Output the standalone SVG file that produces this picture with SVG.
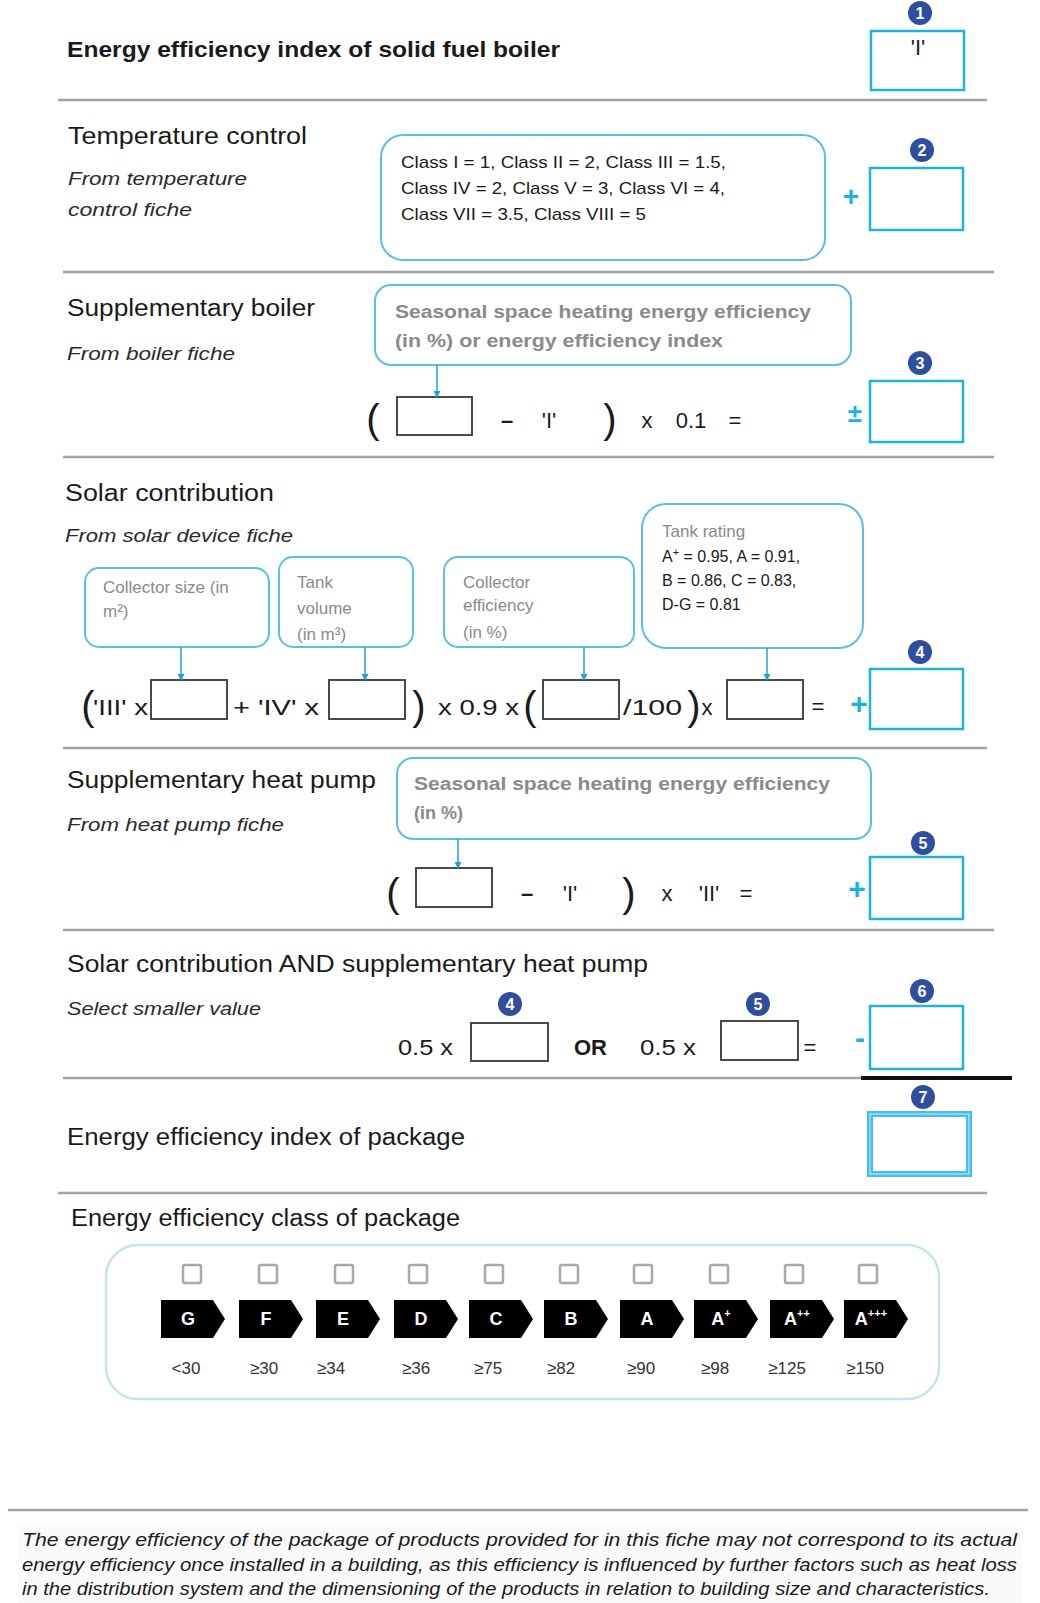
<svg xmlns="http://www.w3.org/2000/svg" width="1040" height="1603" viewBox="0 0 1040 1603">
<style>
text{font-family:"Liberation Sans",Arial,sans-serif;fill:#1a1a1a}
.h{font-size:23px}
.sub{font-size:19px;font-style:italic;fill:#2a2a2a}
.f{font-size:22px}
.br{font-size:40px;font-weight:300}
.cyan{fill:#1ab0e8;font-weight:bold}
.sep{stroke:#a3a3a3;stroke-width:2.5}
.res{fill:#fff;stroke:#1fb3d9;stroke-width:2.5}
.inp{fill:#fff;stroke:#4a4a4a;stroke-width:2}
.info{fill:#fff;stroke:#58bfe9;stroke-width:2}
.it{font-size:18px;font-weight:bold;fill:#8a8a8a}
.st{font-size:17px;fill:#8a8a8a}
.badge{fill:#2f4f9e}
.bn{font-size:16px;font-weight:bold;fill:#fff;text-anchor:middle}
.con{stroke:#1fa3d4;stroke-width:1.5;fill:none}
.chk{fill:#fff;stroke:#a8a8a8;stroke-width:2.5}
.cls{fill:#000}
.cl{font-size:18px;font-weight:bold;fill:#fff;text-anchor:middle}
.num{font-size:17px;fill:#333;text-anchor:middle}
.m{text-anchor:middle}
</style>
<defs>
<marker id="ar" markerWidth="7" markerHeight="7" refX="5" refY="3.5" orient="auto" markerUnits="userSpaceOnUse">
<path d="M0,0 L7,3.5 L0,7 z" fill="#1fa3d4"/>
</marker>
</defs>
<rect width="1040" height="1603" fill="#fff"/>

<!-- separators -->
<g id="separators">
<line class="sep" x1="58" y1="100" x2="987" y2="100"/>
<line class="sep" x1="63" y1="272" x2="994" y2="272"/>
<line class="sep" x1="63" y1="457" x2="994" y2="457"/>
<line class="sep" x1="63" y1="748" x2="987" y2="748"/>
<line class="sep" x1="63" y1="930" x2="994" y2="930"/>
<line class="sep" x1="63" y1="1078" x2="862" y2="1078"/>
<line x1="861" y1="1078" x2="1012" y2="1078" stroke="#111" stroke-width="4"/>
<line class="sep" x1="58" y1="1193" x2="987" y2="1193"/>
<line class="sep" x1="8" y1="1510" x2="1028" y2="1510"/>
</g>

<!-- Section 1 -->
<g id="solid-fuel-boiler">
<text x="67" y="57" font-size="22" font-weight="bold" textLength="493" lengthAdjust="spacingAndGlyphs">Energy efficiency index of solid fuel boiler</text>
<rect class="res" x="871" y="31" width="93" height="59"/>
<text class="f m" x="918" y="55" font-size="20">'I'</text>
<circle class="badge" cx="920" cy="13" r="12"/><text class="bn" x="920" y="19">1</text>
</g>

<!-- Section 2 -->
<g id="temperature-control">
<text class="h" x="68" y="144" textLength="239" lengthAdjust="spacingAndGlyphs">Temperature control</text>
<text class="sub" x="68" y="185" textLength="179" lengthAdjust="spacingAndGlyphs">From temperature</text>
<text class="sub" x="68" y="216" textLength="124" lengthAdjust="spacingAndGlyphs">control fiche</text>
<rect class="info" x="381" y="135" width="444" height="125" rx="22"/>
<text x="401" y="168" font-size="17" textLength="325" lengthAdjust="spacingAndGlyphs">Class I = 1, Class II = 2, Class III = 1.5,</text>
<text x="401" y="194" font-size="17" textLength="324" lengthAdjust="spacingAndGlyphs">Class IV = 2, Class V = 3, Class VI = 4,</text>
<text x="401" y="220" font-size="17" textLength="245" lengthAdjust="spacingAndGlyphs">Class VII = 3.5, Class VIII = 5</text>
<text class="cyan m" x="851" y="206" font-size="28">+</text>
<rect class="res" x="870" y="168" width="93" height="62"/>
<circle class="badge" cx="922" cy="150" r="12"/><text class="bn" x="922" y="156">2</text>
</g>

<!-- Section 3 -->
<g id="supplementary-boiler">
<text class="h" x="67" y="316" textLength="248" lengthAdjust="spacingAndGlyphs">Supplementary boiler</text>
<text class="sub" x="67" y="360" textLength="168" lengthAdjust="spacingAndGlyphs">From boiler fiche</text>
<rect class="info" x="375" y="285" width="476" height="80" rx="16"/>
<text class="it" x="395" y="318" textLength="416" lengthAdjust="spacingAndGlyphs">Seasonal space heating energy efficiency</text>
<text class="it" x="395" y="347" textLength="328" lengthAdjust="spacingAndGlyphs">(in %) or energy efficiency index</text>
<text class="br m" x="373" y="433">(</text>
<rect class="inp" x="397" y="397" width="75" height="38"/>
<text class="f m" x="507" y="428" font-weight="bold">–</text>
<text class="f m" x="549" y="428">'I'</text>
<text class="br m" x="610" y="433">)</text>
<text class="f m" x="647" y="428">x</text>
<text class="f m" x="691" y="428">0.1</text>
<text class="f m" x="735" y="428" font-size="18">=</text>
<text class="cyan m" x="855" y="422" font-size="26">±</text>
<rect class="res" x="870" y="381" width="93" height="61"/>
<circle class="badge" cx="920" cy="363" r="12"/><text class="bn" x="920" y="369">3</text>
</g>

<!-- Section 4 -->
<g id="solar-contribution">
<text class="h" x="65" y="501" textLength="209" lengthAdjust="spacingAndGlyphs">Solar contribution</text>
<text class="sub" x="65" y="542" textLength="228" lengthAdjust="spacingAndGlyphs">From solar device fiche</text>
<rect class="info" x="85" y="568" width="184" height="79" rx="14"/>
<text class="st" x="103" y="593" font-size="16">Collector size (in</text>
<text class="st" x="103" y="617" font-size="16">m²)</text>
<rect class="info" x="279" y="557" width="134" height="90" rx="14"/>
<text class="st" x="297" y="588" font-size="18">Tank</text>
<text class="st" x="297" y="614" font-size="18">volume</text>
<text class="st" x="297" y="640" font-size="18">(in m³)</text>
<rect class="info" x="444" y="557" width="190" height="90" rx="14"/>
<text class="st" x="463" y="588" font-size="18">Collector</text>
<text class="st" x="463" y="611" font-size="16">efficiency</text>
<text class="st" x="463" y="638" font-size="18">(in %)</text>
<rect class="info" x="642" y="504" width="221" height="144" rx="24"/>
<text class="st" x="662" y="537" font-size="18">Tank rating</text>
<text x="662" y="562" font-size="16" fill="#555">A<tspan font-size="11" dy="-6">+</tspan><tspan dy="6"> = 0.95, A = 0.91,</tspan></text>
<text x="662" y="586" font-size="16" fill="#555">B = 0.86, C = 0.83,</text>
<text x="662" y="610" font-size="16" fill="#555">D-G = 0.81</text>
<text class="br m" x="88" y="720">(</text>
<text class="f" x="93" y="715" font-size="25" textLength="55" lengthAdjust="spacingAndGlyphs">'III' x</text>
<rect class="inp" x="151" y="680" width="76" height="39"/>
<text class="f" x="233" y="715" font-size="25" textLength="86" lengthAdjust="spacingAndGlyphs">+ 'IV' x</text>
<rect class="inp" x="329" y="680" width="76" height="39"/>
<text class="br m" x="419" y="720">)</text>
<text class="f" x="438" y="715" font-size="25" textLength="81" lengthAdjust="spacingAndGlyphs">x 0.9 x</text>
<text class="br m" x="530" y="720">(</text>
<rect class="inp" x="543" y="680" width="76" height="39"/>
<text class="f" x="623" y="715" font-size="25" textLength="59" lengthAdjust="spacingAndGlyphs">/100</text>
<text class="br m" x="694" y="720">)</text>
<text class="f m" x="707" y="715" font-size="24">x</text>
<rect class="inp" x="727" y="680" width="76" height="39"/>
<text class="f m" x="818" y="714" font-size="18">=</text>
<text class="cyan m" x="859" y="714" font-size="30">+</text>
<rect class="res" x="870" y="669" width="93" height="60"/>
<circle class="badge" cx="920" cy="652" r="12"/><text class="bn" x="920" y="658">4</text>
</g>

<!-- Section 5 -->
<g id="supplementary-heat-pump">
<text class="h" x="67" y="788" textLength="309" lengthAdjust="spacingAndGlyphs">Supplementary heat pump</text>
<text class="sub" x="67" y="831" textLength="217" lengthAdjust="spacingAndGlyphs">From heat pump fiche</text>
<rect class="info" x="397" y="758" width="474" height="81" rx="16"/>
<text class="it" x="414" y="790" textLength="416" lengthAdjust="spacingAndGlyphs">Seasonal space heating energy efficiency</text>
<text class="it" x="414" y="819">(in %)</text>
<text class="br m" x="393" y="907">(</text>
<rect class="inp" x="416" y="868" width="76" height="39"/>
<text class="f m" x="527" y="901" font-weight="bold">–</text>
<text class="f m" x="570" y="901">'I'</text>
<text class="br m" x="629" y="907">)</text>
<text class="f m" x="667" y="901">x</text>
<text class="f m" x="709" y="901">'II'</text>
<text class="f m" x="746" y="901" font-size="18">=</text>
<text class="cyan m" x="857" y="899" font-size="30">+</text>
<rect class="res" x="870" y="857" width="93" height="62"/>
<circle class="badge" cx="923" cy="843" r="12"/><text class="bn" x="923" y="849">5</text>
</g>

<!-- Section 6 -->
<g id="solar-and-heat-pump">
<text class="h" x="67" y="972" textLength="581" lengthAdjust="spacingAndGlyphs">Solar contribution AND supplementary heat pump</text>
<text class="sub" x="67" y="1015" textLength="194" lengthAdjust="spacingAndGlyphs">Select smaller value</text>
<circle class="badge" cx="510" cy="1004" r="12"/><text class="bn" x="510" y="1010">4</text>
<circle class="badge" cx="758" cy="1004" r="12"/><text class="bn" x="758" y="1010">5</text>
<text class="f" x="398" y="1055" font-size="24" textLength="55" lengthAdjust="spacingAndGlyphs">0.5 x</text>
<rect class="inp" x="471" y="1023" width="77" height="38"/>
<text x="574" y="1055" font-size="22" font-weight="bold">OR</text>
<text class="f" x="640" y="1055" font-size="24" textLength="56" lengthAdjust="spacingAndGlyphs">0.5 x</text>
<rect class="inp" x="721" y="1021" width="77" height="39"/>
<text class="f m" x="810" y="1055" font-size="18">=</text>
<text class="cyan m" x="860" y="1048" font-size="30">-</text>
<rect class="res" x="870" y="1006" width="93" height="63"/>
<circle class="badge" cx="922" cy="991" r="12"/><text class="bn" x="922" y="997">6</text>
</g>

<!-- Section 7 -->
<g id="package-index">
<text class="h" x="67" y="1145" textLength="398" lengthAdjust="spacingAndGlyphs">Energy efficiency index of package</text>
<rect x="870" y="1114" width="99" height="60" fill="#fff" stroke="#45bdf0" stroke-width="6"/>
<rect x="870" y="1114" width="99" height="60" fill="none" stroke="#b5e6fa" stroke-width="1.2"/>
<circle class="badge" cx="923" cy="1097" r="12"/><text class="bn" x="923" y="1103">7</text>
</g>

<!-- Section 8 -->
<g id="package-class">
<text class="h" x="71" y="1226" textLength="389" lengthAdjust="spacingAndGlyphs">Energy efficiency class of package</text>
<rect x="106" y="1245" width="833" height="154" rx="32" fill="#fff" stroke="#c4e4ef" stroke-width="2.5"/>
<g id="checkboxes">
<rect class="chk" x="183" y="1265" width="18" height="18" rx="2"/>
<rect class="chk" x="259" y="1265" width="18" height="18" rx="2"/>
<rect class="chk" x="335" y="1265" width="18" height="18" rx="2"/>
<rect class="chk" x="409" y="1265" width="18" height="18" rx="2"/>
<rect class="chk" x="485" y="1265" width="18" height="18" rx="2"/>
<rect class="chk" x="560" y="1265" width="18" height="18" rx="2"/>
<rect class="chk" x="634" y="1265" width="18" height="18" rx="2"/>
<rect class="chk" x="710" y="1265" width="18" height="18" rx="2"/>
<rect class="chk" x="785" y="1265" width="18" height="18" rx="2"/>
<rect class="chk" x="859" y="1265" width="18" height="18" rx="2"/>
</g>
<g id="class-arrows">
<path class="cls" d="M161,1300 h52 l12,19 l-12,19 h-52 z"/><text class="cl" x="188" y="1325">G</text>
<path class="cls" d="M239,1300 h52 l12,19 l-12,19 h-52 z"/><text class="cl" x="266" y="1325">F</text>
<path class="cls" d="M316,1300 h52 l12,19 l-12,19 h-52 z"/><text class="cl" x="343" y="1325">E</text>
<path class="cls" d="M394,1300 h52 l12,19 l-12,19 h-52 z"/><text class="cl" x="421" y="1325">D</text>
<path class="cls" d="M469,1300 h52 l12,19 l-12,19 h-52 z"/><text class="cl" x="496" y="1325">C</text>
<path class="cls" d="M544,1300 h52 l12,19 l-12,19 h-52 z"/><text class="cl" x="571" y="1325">B</text>
<path class="cls" d="M620,1300 h52 l12,19 l-12,19 h-52 z"/><text class="cl" x="647" y="1325">A</text>
<path class="cls" d="M694,1300 h52 l12,19 l-12,19 h-52 z"/><text class="cl" x="721" y="1325">A<tspan font-size="11" dy="-8">+</tspan></text>
<path class="cls" d="M770,1300 h52 l12,19 l-12,19 h-52 z"/><text class="cl" x="797" y="1325">A<tspan font-size="11" dy="-8">++</tspan></text>
<path class="cls" d="M844,1300 h52 l12,19 l-12,19 h-52 z"/><text class="cl" x="871" y="1325">A<tspan font-size="11" dy="-8">+++</tspan></text>
</g>
<g id="class-thresholds">
<text class="num" x="186" y="1374">&lt;30</text>
<text class="num" x="264" y="1374">≥30</text>
<text class="num" x="331" y="1374">≥34</text>
<text class="num" x="416" y="1374">≥36</text>
<text class="num" x="488" y="1374">≥75</text>
<text class="num" x="561" y="1374">≥82</text>
<text class="num" x="641" y="1374">≥90</text>
<text class="num" x="715" y="1374">≥98</text>
<text class="num" x="787" y="1374">≥125</text>
<text class="num" x="865" y="1374">≥150</text>
</g>
</g>

<!-- connectors -->
<g id="connectors">
<line class="con" x1="437" y1="365" x2="437" y2="396" marker-end="url(#ar)"/>
<line class="con" x1="181" y1="647" x2="181" y2="679" marker-end="url(#ar)"/>
<line class="con" x1="365" y1="647" x2="365" y2="679" marker-end="url(#ar)"/>
<line class="con" x1="584" y1="647" x2="584" y2="679" marker-end="url(#ar)"/>
<line class="con" x1="767" y1="648" x2="767" y2="679" marker-end="url(#ar)"/>
<line class="con" x1="458" y1="839" x2="458" y2="867" marker-end="url(#ar)"/>
</g>

<!-- footer -->
<g id="footer">
<rect x="18" y="1526" width="1004" height="77" fill="#fafafa"/>
<text x="22" y="1546" font-size="18" font-style="italic" fill="#4a4a4a" textLength="995" lengthAdjust="spacingAndGlyphs">The energy efficiency of the package of products provided for in this fiche may not correspond to its actual</text>
<text x="22" y="1571" font-size="18" font-style="italic" fill="#4a4a4a" textLength="995" lengthAdjust="spacingAndGlyphs">energy efficiency once installed in a building, as this efficiency is influenced by further factors such as heat loss</text>
<text x="22" y="1595" font-size="18" font-style="italic" fill="#4a4a4a" textLength="968" lengthAdjust="spacingAndGlyphs">in the distribution system and the dimensioning of the products in relation to building size and characteristics.</text>
</g>
</svg>
